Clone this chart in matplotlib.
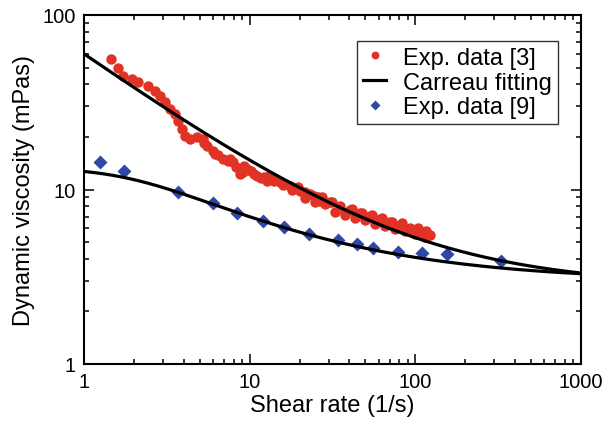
import matplotlib
matplotlib.use("Agg")
import matplotlib.pyplot as plt
import numpy as np
from matplotlib.ticker import LogLocator, FuncFormatter, NullFormatter

plt.rcParams['font.family'] = ['Liberation Sans', 'DejaVu Sans']

# Experimental data [3] (red circles)
shear_exp3 = [1.45, 1.60, 1.73, 1.96, 2.13, 2.44, 2.68, 2.87, 3.08, 3.30, 3.54, 3.69,
              3.89, 4.07, 4.36, 4.79, 5.23, 5.50, 6.01, 6.44, 6.90, 7.40, 7.93, 8.27,
              8.73, 9.11, 9.59, 10.2, 11.0, 11.7, 12.7, 13.6, 15.2, 16.3, 17.5, 18.8,
              20.1, 21.6, 23.1, 24.4, 25.8, 26.6, 30.5, 35.1, 37.6, 40.3, 46.3, 53.2,
              61.1, 70.3, 75.3, 80.7, 92.7, 95.3, 106.6, 114, 119,
              21.6, 24.8, 28.5, 32.7, 37.6, 43.2, 49.6, 57.0, 65.6, 75.3, 86.5, 99.5,
              114, 27.3, 31.4, 41.4, 47.6, 54.7, 62.8, 72.3, 83.0, 104, 116, 122,
              10.6, 12.2, 14.0, 15.8, 18.0, 19.5, 13.0, 9.3, 7.6, 6.2, 5.3]
visc_exp3 = [56.0, 49.5, 44.9, 43.0, 41.5, 39.4, 36.8, 34.5, 31.7, 28.9, 27.1, 24.8,
             22.2, 20.3, 19.5, 20.0, 19.5, 17.8, 16.7, 15.8, 15.0, 14.6, 14.4, 13.5,
             12.3, 12.6, 13.1, 12.8, 12.0, 11.6, 11.2, 11.5, 11.0, 10.8, 10.5, 10.2,
             9.85, 9.68, 9.42, 9.19, 9.06, 8.60, 8.48, 8.04, 7.33, 7.63, 7.33, 7.05,
             6.78, 6.51, 6.09, 6.26, 6.02, 5.78, 5.78, 5.35, 5.49,
             8.94, 8.48, 8.26, 7.43, 7.14, 6.87, 6.69, 6.34, 6.18, 5.94, 5.78, 5.56,
             5.35, 9.06, 8.48, 7.73, 7.33, 7.14, 6.87, 6.51, 6.43, 6.02, 5.78, 5.49,
             12.3, 11.8, 11.2, 10.6, 10.0, 10.3, 11.9, 13.6, 15.0, 16.0, 18.5]

# Experimental data [9] (blue diamonds)
shear_exp9 = [1.25, 1.74, 3.71, 6.03, 8.42, 12.1, 16.2, 22.9, 34.3, 44.6, 55.7, 78.2,
              109, 155, 329]
visc_exp9 = [14.3, 12.8, 9.64, 8.37, 7.33, 6.63, 6.07, 5.56, 5.16, 4.87, 4.60, 4.40,
             4.33, 4.27, 3.89]

# Carreau fit parameters: [eta0, eta_inf, lambda, n]
carreau_exp3 = [441.0, 2.8, 20.0, 0.32]
carreau_exp9 = [13.4, 3.0, 0.53, 0.43]

def carreau(g, p):
    eta0, etainf, lam, n = p
    return etainf + (eta0 - etainf) * (1 + (lam * g) ** 2) ** ((n - 1) / 2)

fig = plt.figure(figsize=(6.06, 4.27), dpi=100)
ax = fig.add_axes([84/606, 1-365/427, (581-84)/606, (365-16)/427])

g = np.logspace(0, 3, 400)
red = '#e03325'
blue = '#2f48a8'

ax.plot(shear_exp3, visc_exp3, 'o', color=red, ms=7.5, mec='none', label='Exp. data [3]', zorder=2)
ax.plot(g, carreau(g, carreau_exp3), '-', color='black', lw=2.3, label='Carreau fitting', zorder=3)
ax.plot(g, carreau(g, carreau_exp9), '-', color='black', lw=2.3, zorder=3)
ax.plot(shear_exp9, visc_exp9, 'D', color=blue, ms=7, mec='none', label='Exp. data [9]', zorder=2)

ax.set_xscale('log')
ax.set_yscale('log')
ax.set_xlim(1, 1000)
ax.set_ylim(1, 100)

fmt = FuncFormatter(lambda v, pos: '%g' % v)
ax.xaxis.set_major_formatter(fmt)
ax.yaxis.set_major_formatter(fmt)
ax.xaxis.set_minor_formatter(NullFormatter())
ax.yaxis.set_minor_formatter(NullFormatter())
ax.xaxis.set_minor_locator(LogLocator(base=10, subs=np.arange(2, 10)))
ax.yaxis.set_minor_locator(LogLocator(base=10, subs=np.arange(2, 10)))

ax.tick_params(which='both', direction='in', top=True, right=True, width=1.1, labelsize=14.5)
ax.tick_params(which='major', length=7, pad=6)
ax.tick_params(which='minor', length=3.5)
for s in ax.spines.values():
    s.set_linewidth(1.5)

ax.set_xlabel('Shear rate (1/s)', fontsize=17, labelpad=2)
ax.set_ylabel('Dynamic viscosity (mPas)', fontsize=17, labelpad=5)

leg = ax.legend(loc='upper right', bbox_to_anchor=(0.953, 0.926), borderaxespad=0,
                fontsize=17, frameon=True, fancybox=False, edgecolor='black',
                handlelength=1.0, handletextpad=0.7, labelspacing=0.12, borderpad=0.25,
                markerscale=0.75)
leg.get_frame().set_linewidth(1.0)

fig.savefig('out.png', dpi=100)
